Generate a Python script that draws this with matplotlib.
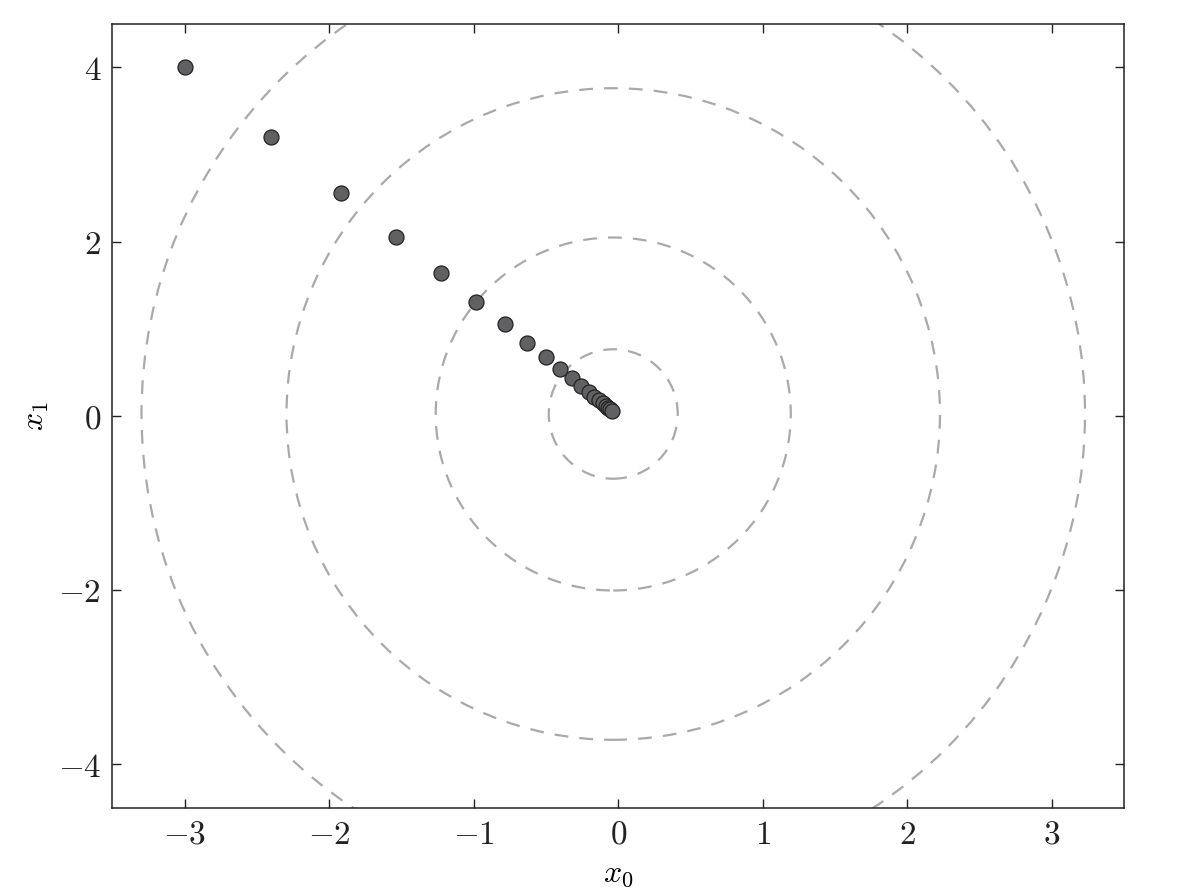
import matplotlib
matplotlib.use("Agg")
import matplotlib.pyplot as plt
from matplotlib.patches import Ellipse
from matplotlib.ticker import FuncFormatter

plt.rcParams['mathtext.fontset'] = 'cm'
plt.rcParams['font.family'] = 'serif'
plt.rcParams['font.serif'] = ['DejaVu Serif']

# gradient-descent iterates
x0_vals = [-3.0, -2.4, -1.92, -1.536, -1.229, -0.983, -0.786, -0.629, -0.503, -0.403,
           -0.322, -0.258, -0.206, -0.165, -0.132, -0.106, -0.084, -0.068, -0.054, -0.043]
x1_vals = [4.0, 3.2, 2.56, 2.048, 1.638, 1.311, 1.049, 0.839, 0.671, 0.537,
           0.429, 0.344, 0.275, 0.220, 0.176, 0.141, 0.113, 0.090, 0.072, 0.058]

# contour rings (semi-axes in data units) and their centre
ring_ax0 = [0.446, 1.228, 2.26, 3.263]
ring_ax1 = [0.743, 2.026, 3.74, 5.42]
ring_center = (-0.035, 0.02)

xticks = [-3, -2, -1, 0, 1, 2, 3]
yticks = [-4, -2, 0, 2, 4]

fig = plt.figure(figsize=(11.82, 8.96), dpi=100)
ax = fig.add_axes([0.095, 0.0985, 0.9512 - 0.095, 0.9735 - 0.0985])

for a0, a1 in zip(ring_ax0, ring_ax1):
    e = Ellipse(ring_center, 2 * a0, 2 * a1, fill=False, edgecolor='#a9a9ab',
                linewidth=1.6, linestyle=(0, (6.2, 5)))
    ax.add_patch(e)

ax.plot(x0_vals, x1_vals, 'o', markersize=10.8, markerfacecolor='#616164',
        markeredgecolor='#222222', markeredgewidth=0.9, zorder=3)

ax.set_xlim(-3.5, 3.5)
ax.set_ylim(-4.5, 4.5)
ax.set_xticks(xticks)
ax.set_yticks(yticks)
fmt = FuncFormatter(lambda v, p: r'$%d$' % int(round(v)) if v >= 0 else r'$-%d$' % int(round(-v)))
ax.xaxis.set_major_formatter(fmt)
ax.yaxis.set_major_formatter(fmt)
ax.tick_params(direction='in', top=True, right=True, length=6.5, width=1.0,
               labelsize=24, colors='#222222', pad=8)
for s in ax.spines.values():
    s.set_linewidth(1.1)
    s.set_color('#222222')

ax.set_xlabel(r'$x_0$', fontsize=23, labelpad=5)
ax.set_ylabel(r'$x_1$', fontsize=23, labelpad=5)

fig.savefig('out.png', dpi=100)
